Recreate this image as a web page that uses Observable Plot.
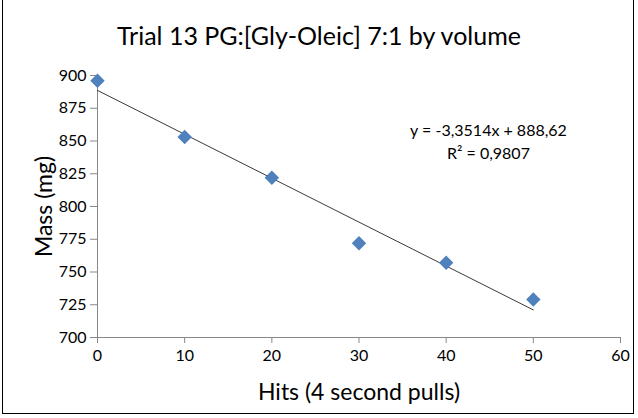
<!DOCTYPE html>
<html><head><meta charset="utf-8">
<script src="https://cdn.jsdelivr.net/npm/d3@7"></script>
<script src="https://cdn.jsdelivr.net/npm/@observablehq/plot@0.6"></script>
<style>
body{margin:0;background:#fff;}
#wrap{position:relative;width:638px;height:418px;overflow:hidden;font-family:Lato,"Open Sans",sans-serif;}
#border{position:absolute;left:2px;top:-1px;width:632px;height:415px;border:1px solid #000;box-sizing:border-box;pointer-events:none;}
#title{position:absolute;left:0;top:19px;width:638px;text-align:center;font-size:25px;line-height:32px;color:#000;}
svg{position:absolute;left:0;top:0;}
svg [aria-label="y-axis label"] text, svg [aria-label="x-axis label"] text{font-size:23px;}
</style></head>
<body><div id="wrap"><div id="title"></div><div id="border"></div></div>
<script>
const titleText = "Trial 13 PG:[Gly-Oleic] 7:1 by volume";
const hits = [0, 10, 20, 30, 40, 50];
const mass = [896, 853, 822, 772, 757, 729];
const xTicks = [0, 10, 20, 30, 40, 50, 60];
const yTicks = [700, 725, 750, 775, 800, 825, 850, 875, 900];
const equationLines = ["y = -3,3514x + 888,62", "R² = 0,9807"];

const data = hits.map((h, i) => ({hits: h, mass: mass[i]}));
document.getElementById("title").textContent = titleText;

const chart = Plot.plot({
  width: 638,
  height: 418,
  marginLeft: 97,
  marginRight: 18,
  marginTop: 75,
  marginBottom: 81,
  style: {fontFamily: "Lato, 'Open Sans', sans-serif", fontSize: "16px", color: "#000", background: "transparent"},
  x: {domain: [0, 60], ticks: xTicks, label: "Hits (4 second pulls)"},
  y: {domain: [700, 900], ticks: yTicks, label: "Mass (mg)"},
  marks: [
    Plot.axisX({ticks: xTicks, tickSize: 6, tickPadding: 6, stroke: "#878787", fill: "#000", label: "Hits (4 second pulls)", labelAnchor: "center", labelArrow: "none", labelOffset: 62}),
    Plot.axisY({ticks: yTicks, tickSize: 7, tickPadding: 4, stroke: "#878787", fill: "#000", label: "Mass (mg)", labelAnchor: "center", labelArrow: "none", labelOffset: 62}),
    Plot.ruleX([0], {stroke: "#878787"}),
    Plot.ruleY([700], {stroke: "#878787"}),
    Plot.linearRegressionY(data, {x: "hits", y: "mass", stroke: "#3a3a3a", strokeWidth: 1, ci: 0}),
    Plot.dot(data, {x: "hits", y: "mass", symbol: "diamond2", r: 6.5, fill: "#4F81BD", stroke: "none"}),
    Plot.text([equationLines.join("\n")], {frameAnchor: "top-right", dx: -132, dy: 44, textAnchor: "middle", lineAnchor: "top", fontSize: 16, lineHeight: 1.45, fill: "#000", text: d => d})
  ]
});
document.getElementById("wrap").appendChild(chart);
</script></body></html>
